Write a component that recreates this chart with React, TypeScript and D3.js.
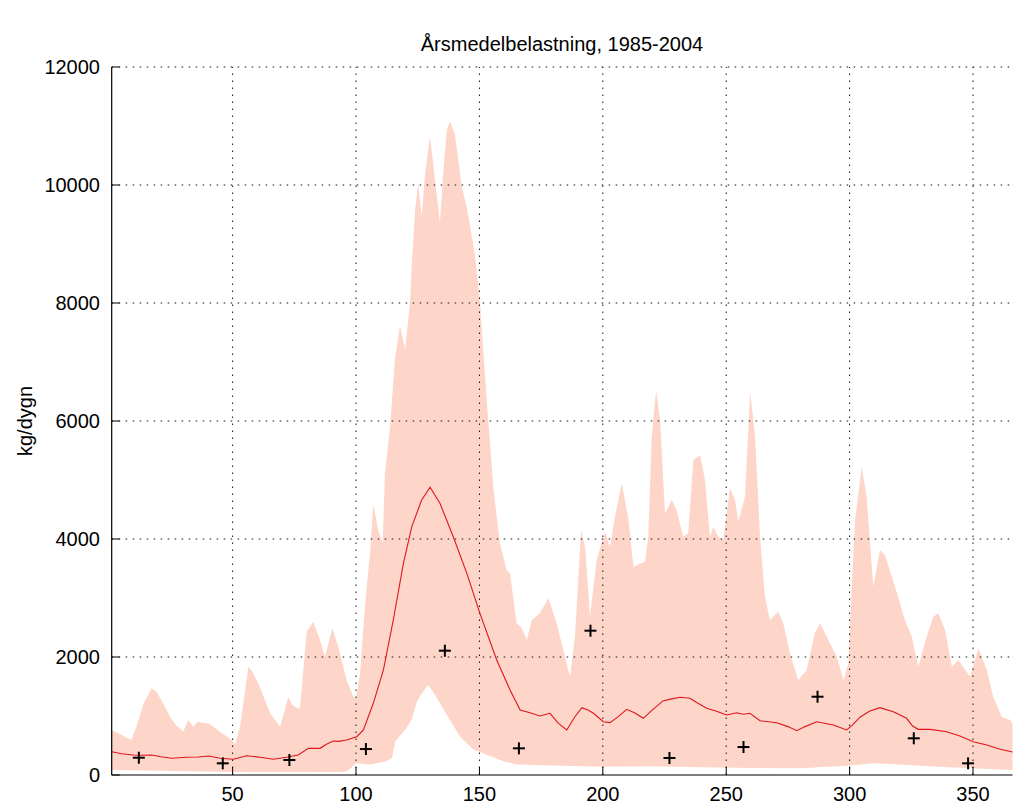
import React from 'react';
import * as d3 from 'd3';

const titleText = 'Årsmedelbelastning, 1985-2004';
const yLabelText = 'kg/dygn';
const xTicks = [50, 100, 150, 200, 250, 300, 350];
const yTicks = [0, 2000, 4000, 6000, 8000, 10000, 12000];

const upperDays = [1, 5, 9, 11, 14, 17.2, 19.2, 22, 24.6, 27, 30, 32, 34, 35.8, 38, 40.2, 44.9, 49.6, 51, 53, 56.4, 58, 60.4, 63, 65.2, 69.2, 72.6, 74, 76, 77.3, 80, 82.7, 85.4, 87.4, 90.4, 92.8, 96.2, 98.9, 100, 101.7, 103.5, 105.7, 107, 109, 110.8, 111.7, 113.8, 115.8, 117.8, 119.9, 121.9, 122.6, 124, 125.2, 126.6, 128, 130, 131.3, 134, 135.5, 136.8, 138.1, 140.1, 142.8, 144.9, 148.2, 150.2, 153, 155.6, 158.3, 161, 162.4, 165.1, 167, 169.2, 171.2, 174.5, 177.9, 181.3, 184, 186.7, 188.7, 191.2, 192.8, 194.8, 197.5, 200.9, 202.9, 204.9, 207.7, 210.4, 212.4, 215, 217.1, 218.4, 219.8, 221.6, 223.2, 225.2, 227.9, 229.9, 232.6, 234.6, 236.7, 239.4, 241.4, 243.4, 244.8, 246.8, 248.8, 251.5, 253.6, 254.9, 257.6, 259.7, 261.7, 263.7, 265.7, 267.7, 271.1, 273.1, 275.8, 279.2, 282.6, 285.9, 288, 292, 294.8, 297.5, 299.5, 300.8, 302.2, 304.9, 306.9, 309.6, 312.3, 314.3, 318.4, 322.4, 325.2, 327.8, 331.2, 333.9, 335.9, 338.7, 341.4, 344, 348.8, 352.2, 355.6, 358.2, 361.6, 365, 366];
const upperVals = [763, 680, 593, 820, 1215, 1469, 1412, 1200, 988, 850, 734, 932, 819, 903, 880, 876, 734, 593, 520, 819, 1836, 1750, 1554, 1280, 1046, 819, 1327, 1200, 1130, 1130, 2429, 2598, 2288, 2005, 2486, 2175, 1610, 1327, 1300, 1745, 2800, 3786, 4588, 4150, 3932, 5100, 5900, 7070, 7614, 7212, 8020, 8680, 9600, 10018, 9474, 10200, 10820, 10347, 9363, 10300, 10932, 11076, 10858, 9983, 9619, 8817, 8017, 6340, 4880, 3927, 3475, 3420, 2571, 2500, 2288, 2627, 2740, 2995, 2571, 2119, 1666, 2344, 4153, 3870, 2683, 3644, 4124, 3870, 4378, 4944, 4322, 3531, 3580, 3616, 4039, 5734, 6525, 6017, 4435, 4661, 4491, 4039, 4096, 5339, 5424, 5000, 4039, 4209, 4039, 3983, 4859, 4661, 4293, 4717, 6497, 5734, 4039, 3022, 2627, 2768, 2571, 2063, 1610, 1780, 2402, 2571, 2232, 2005, 1610, 1893, 3136, 4322, 5226, 4717, 3192, 3814, 3729, 3192, 2627, 2344, 1836, 2344, 2683, 2740, 2458, 1836, 1949, 1666, 2147, 1780, 1327, 988, 932, 870];

const lowerDays = [1, 20, 50, 80, 95, 97, 100, 106, 112, 114.5, 116, 118.5, 120.5, 122.6, 124.6, 126.6, 129.3, 131, 132.7, 136.8, 142.1, 147.5, 154.3, 160, 165, 180, 200, 220, 240, 260, 280, 300, 310, 320, 340, 366];
const lowerVals = [85, 70, 50, 45, 50, 80, 200, 180, 230, 290, 576, 700, 797, 949, 1237, 1381, 1525, 1420, 1308, 1017, 651, 432, 322, 230, 180, 160, 140, 150, 130, 120, 115, 160, 200, 180, 130, 85];

const meanDays = [1, 5, 9.8, 13, 17.2, 21, 25.3, 31.4, 36, 40.2, 45, 50.3, 55.7, 61.1, 66.5, 71.9, 76.6, 80.7, 85.4, 88, 90.8, 93, 96.2, 100.3, 103, 107, 111.1, 115.1, 119.2, 122.6, 126.6, 130, 134, 139.4, 144.9, 150.2, 157, 162.4, 166.5, 170.5, 174.5, 178.6, 182, 185.4, 188.7, 191.5, 194, 196.2, 200.2, 202.9, 206, 209.7, 213, 216.4, 220, 224.5, 228, 231.3, 235.3, 238, 242.1, 246, 250.2, 254.2, 257, 259.6, 263.7, 270.5, 275, 278.6, 282, 286.7, 293.4, 298.8, 301, 304.2, 308, 312.3, 317.7, 323.1, 325.5, 327.8, 332.6, 339.3, 344.7, 350.1, 355.6, 361, 366];
const meanVals = [395, 360, 339, 335, 339, 310, 283, 300, 305, 322, 283, 266, 327, 300, 266, 300, 339, 452, 452, 520, 576, 570, 593, 649, 763, 1215, 1780, 2627, 3588, 4209, 4661, 4876, 4605, 4039, 3418, 2740, 1949, 1441, 1102, 1056, 1000, 1046, 876, 763, 988, 1140, 1100, 1046, 903, 887, 980, 1113, 1050, 961, 1100, 1260, 1290, 1317, 1300, 1230, 1130, 1080, 1017, 1056, 1030, 1046, 920, 887, 820, 751, 820, 903, 847, 763, 840, 980, 1080, 1141, 1073, 961, 830, 774, 774, 734, 661, 565, 508, 435, 390];

const markerDays = [12, 46, 73, 104, 136, 166, 195, 227, 257, 287, 326, 348];
const markerVals = [293, 198, 254, 440, 2107, 452, 2446, 288, 474, 1327, 622, 198];

export default function App() {
  const W = 1024, H = 809;
  const left = 111.7, right = 1012.5, top = 67, bottom = 775;
  const x = d3.scaleLinear().domain([1, 366]).range([left, right]);
  const y = d3.scaleLinear().domain([0, 12000]).range([bottom, top]);

  const upper = upperDays.map((d, i) => [d, upperVals[i]] as [number, number]);
  const lower = lowerDays.map((d, i) => [d, lowerVals[i]] as [number, number]);
  const band = upper.concat(lower.slice().reverse());
  const bandPath = d3.line<[number, number]>().x(d => x(d[0])).y(d => y(d[1]))(band) + 'Z';
  const meanPath = d3.line<number>().x((d, i) => x(meanDays[i])).y(d => y(d))(meanVals) || '';

  const font = 'Liberation Sans, Arial, Helvetica, sans-serif';
  const tickLen = 8;

  return (
    <svg width={W} height={H} style={{ position: 'absolute', left: 0, top: 0, background: '#fff' }} fontFamily={font}>
      <rect x={0} y={0} width={W} height={H} fill="#fff" />
      <path d={bandPath} fill="#fdd6c9" stroke="none" />
      {xTicks.map(t => (
        <line key={'gx' + t} x1={x(t)} x2={x(t)} y1={bottom} y2={top} stroke="#111" strokeWidth={1} strokeDasharray="1.5,5.5" />
      ))}
      {yTicks.filter(t => t > 0).map(t => (
        <line key={'gy' + t} x1={left} x2={right} y1={y(t)} y2={y(t)} stroke="#111" strokeWidth={1} strokeDasharray="1.5,5.5" />
      ))}
      <path d={meanPath} fill="none" stroke="#e0141e" strokeWidth={1.1} />
      {markerDays.map((d, i) => (
        <g key={'m' + i} stroke="#000" strokeWidth={2}>
          <line x1={x(d) - 6} x2={x(d) + 6} y1={y(markerVals[i])} y2={y(markerVals[i])} />
          <line x1={x(d)} x2={x(d)} y1={y(markerVals[i]) - 6} y2={y(markerVals[i]) + 6} />
        </g>
      ))}
      <line x1={left} x2={left} y1={top} y2={bottom} stroke="#000" strokeWidth={1.2} />
      <line x1={left} x2={right} y1={bottom} y2={bottom} stroke="#000" strokeWidth={1.2} />
      {xTicks.map(t => (
        <g key={'xt' + t}>
          <line x1={x(t)} x2={x(t)} y1={bottom} y2={bottom - tickLen} stroke="#000" strokeWidth={1} />
          <text x={x(t)} y={801} textAnchor="middle" fontSize={20} fill="#000">{t}</text>
        </g>
      ))}
      {yTicks.map(t => (
        <g key={'yt' + t}>
          <line x1={left} x2={left + tickLen} y1={y(t)} y2={y(t)} stroke="#000" strokeWidth={1} />
          <text x={100} y={y(t) + 7} textAnchor="end" fontSize={20} fill="#000">{t}</text>
        </g>
      ))}
      <text x={562} y={51} textAnchor="middle" fontSize={20} fill="#000">{titleText}</text>
      <text transform={`translate(32,${(top + bottom) / 2}) rotate(-90)`} textAnchor="middle" fontSize={20} fill="#000">{yLabelText}</text>
    </svg>
  );
}
